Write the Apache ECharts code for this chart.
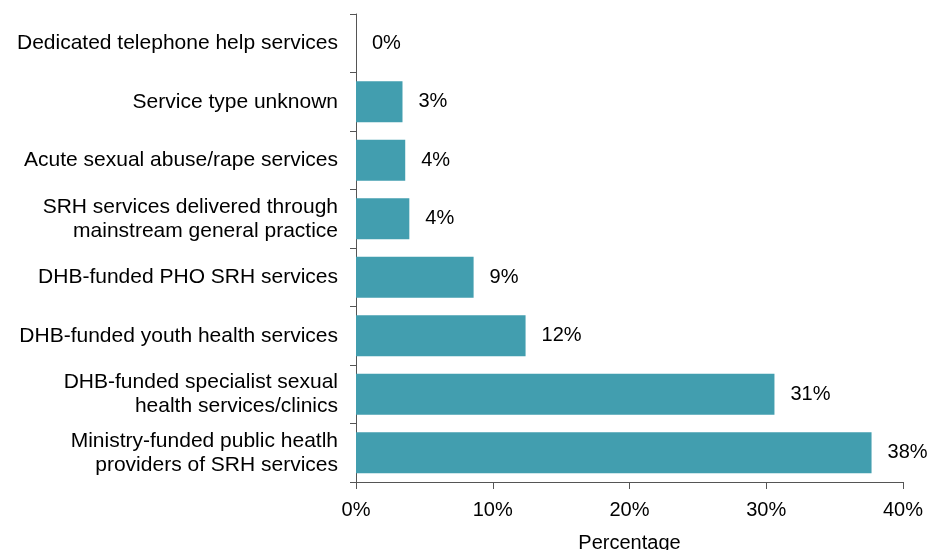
<!DOCTYPE html>
<html>
<head>
<meta charset="utf-8">
<script src="https://cdn.jsdelivr.net/npm/echarts@6/dist/echarts.min.js"></script>
<style>
  html, body { margin: 0; padding: 0; background: #fff; }
  #chart { width: 930px; height: 550px; }
</style>
</head>
<body>
<div id="chart"></div>
<script>
// Service types, listed bottom to top as the category axis draws them
const categories = [
  'Ministry-funded public heatlh\nproviders of SRH services',
  'DHB-funded specialist sexual\nhealth services/clinics',
  'DHB-funded youth health services',
  'DHB-funded PHO SRH services',
  'SRH services delivered through\nmainstream general practice',
  'Acute sexual abuse/rape services',
  'Service type unknown',
  'Dedicated telephone help services'
];
// Share of services (%)
const shares = [37.7, 30.6, 12.4, 8.6, 3.9, 3.6, 3.4, 0];
const xTicks = [0, 10, 20, 30, 40];

const FONT = 'Liberation Sans, Arial, sans-serif';
const chart = echarts.init(document.getElementById('chart'), null, { renderer: 'canvas' });

chart.setOption({
  animation: false,
  grid: {
    left: 356, right: 27, top: 14, bottom: 68,
    containLabel: false, outerBoundsMode: 'none'
  },
  xAxis: {
    type: 'value',
    min: xTicks[0],
    max: xTicks[xTicks.length - 1],
    interval: 10,
    name: 'Percentage',
    nameLocation: 'middle',
    nameGap: 51,
    nameTextStyle: { fontFamily: FONT, fontSize: 20, color: '#000' },
    axisLine: { show: true, lineStyle: { color: '#555', width: 1 } },
    axisTick: { show: true, length: 7, lineStyle: { color: '#555' } },
    splitLine: { show: false },
    axisLabel: {
      formatter: v => v + '%',
      fontFamily: FONT, fontSize: 20, color: '#000', margin: 18
    }
  },
  yAxis: {
    type: 'category',
    data: categories,
    axisLine: { show: true, lineStyle: { color: '#555', width: 1 } },
    axisTick: { show: true, length: 6, lineStyle: { color: '#555' } },
    axisLabel: {
      fontFamily: FONT, fontSize: 21, color: '#000', margin: 18,
      lineHeight: 24, align: 'right'
    }
  },
  series: [{
    type: 'bar',
    data: shares,
    barCategoryGap: '30%',
    itemStyle: { color: '#429eaf' },
    label: {
      show: true,
      position: 'right',
      distance: 16,
      formatter: p => Math.round(p.value) + '%',
      fontFamily: FONT, fontSize: 20, color: '#000'
    }
  }]
});
</script>
</body>
</html>
